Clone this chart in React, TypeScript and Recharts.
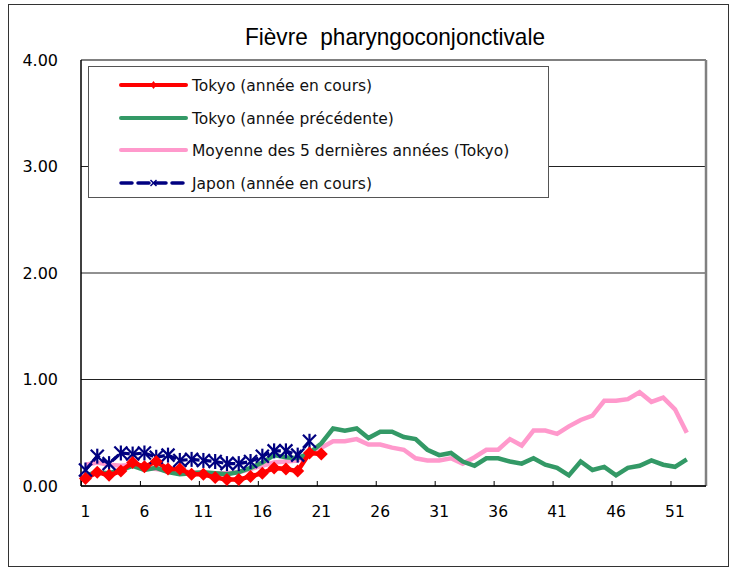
import React from "react";
import { CartesianGrid, Line, LineChart, ReferenceLine, XAxis, YAxis } from "recharts";

// semaines 1 à 52
const weeks = [
  1, 2, 3, 4, 5, 6, 7, 8, 9, 10, 11, 12, 13, 14, 15, 16, 17, 18, 19, 20, 21, 22, 23, 24, 25, 26,
  27, 28, 29, 30, 31, 32, 33, 34, 35, 36, 37, 38, 39, 40, 41, 42, 43, 44, 45, 46, 47, 48, 49, 50, 51, 52,
];

const tokyoCurrent = [
  0.07, 0.13, 0.1, 0.14, 0.22, 0.18, 0.23, 0.16, 0.16, 0.11, 0.11, 0.08, 0.06, 0.06, 0.09, 0.12, 0.17,
  0.16, 0.14, 0.31, 0.3,
];

const tokyoPrevious = [
  0.1, 0.13, 0.12, 0.15, 0.19, 0.15, 0.17, 0.13, 0.11, 0.12, 0.13, 0.12, 0.11, 0.13, 0.17, 0.22, 0.29,
  0.27, 0.26, 0.31, 0.4, 0.54, 0.52, 0.54, 0.45, 0.51, 0.51, 0.46, 0.44, 0.34, 0.29, 0.31, 0.23, 0.19,
  0.26, 0.26, 0.23, 0.21, 0.26, 0.2, 0.17, 0.1, 0.23, 0.15, 0.18, 0.1, 0.17, 0.19, 0.24, 0.2, 0.18, 0.25,
];

const tokyoAverage = [
  0.2, 0.22, 0.2, 0.19, 0.2, 0.17, 0.16, 0.14, 0.14, 0.13, 0.12, 0.12, 0.12, 0.13, 0.16, 0.19, 0.22,
  0.23, 0.24, 0.3, 0.36, 0.42, 0.42, 0.44, 0.39, 0.39, 0.36, 0.34, 0.26, 0.24, 0.24, 0.26, 0.21, 0.27,
  0.34, 0.34, 0.44, 0.38, 0.52, 0.52, 0.49, 0.56, 0.62, 0.66, 0.8, 0.8, 0.815, 0.88, 0.79, 0.83, 0.72, 0.5,
];

const japanCurrent = [
  0.15, 0.28, 0.21, 0.31, 0.3, 0.31, 0.27, 0.29, 0.24, 0.25, 0.24, 0.23, 0.21, 0.21, 0.23, 0.28, 0.33,
  0.33, 0.29, 0.42,
];

const xTicks = [1, 6, 11, 16, 21, 26, 31, 36, 41, 46, 51];
const yTicks = [0, 1, 2, 3, 4];

const legendLabels = [
  "Tokyo (année en cours)",
  "Tokyo (année précédente)",
  "Moyenne des 5 dernières années (Tokyo)",
  "Japon (année en cours)",
];

const RED = "#ff0000";
const GREEN = "#339966";
const PINK = "#ff99cc";
const NAVY = "#000080";
const AXIS_FONT = "'DejaVu Sans', Verdana, sans-serif";

const data = weeks.map((week, i) => ({
  week,
  current: tokyoCurrent[i] ?? null,
  previous: tokyoPrevious[i] ?? null,
  average: tokyoAverage[i] ?? null,
  japan: japanCurrent[i] ?? null,
}));

function Diamond(props: any) {
  const { cx, cy, value } = props;
  if (value == null || cx == null || cy == null) return null;
  const r = 6.5;
  return <polygon points={`${cx},${cy - r} ${cx + r},${cy} ${cx},${cy + r} ${cx - r},${cy}`} fill={RED} />;
}

function Star(props: any) {
  const { cx, cy, value } = props;
  if (value == null || cx == null || cy == null) return null;
  const r = 6.5;
  return (
    <g stroke={NAVY} strokeWidth={2.2}>
      <line x1={cx - r} y1={cy - r} x2={cx + r} y2={cy + r} />
      <line x1={cx - r} y1={cy + r} x2={cx + r} y2={cy - r} />
      <line x1={cx} y1={cy - r - 1} x2={cx} y2={cy + r + 1} />
    </g>
  );
}

function WeekTick(props: any) {
  const { x, y, payload } = props;
  return (
    <g>
      <line x1={x - 4} y1={y} x2={x - 4} y2={y - 5} stroke="#000" />
      <text x={x} y={y + 31} textAnchor="middle" fontFamily={AXIS_FONT} fontSize={15.5} fill="#000">
        {payload.value}
      </text>
    </g>
  );
}

function LegendBox() {
  const rowY = [85, 118, 150, 183];
  const x1 = 121;
  const x2 = 186;
  const mid = (x1 + x2) / 2;
  return (
    <g>
      <rect x={88.5} y={66.5} width={460} height={131} fill="#fff" stroke="#555" />
      <line x1={x1} y1={rowY[0]} x2={x2} y2={rowY[0]} stroke={RED} strokeWidth={4} strokeLinecap="round" />
      <polygon
        points={`${mid},${rowY[0] - 4} ${mid + 3},${rowY[0]} ${mid},${rowY[0] + 4} ${mid - 3},${rowY[0]}`}
        fill={RED}
      />
      <line x1={x1} y1={rowY[1]} x2={x2} y2={rowY[1]} stroke={GREEN} strokeWidth={4} strokeLinecap="round" />
      <line x1={x1} y1={rowY[2]} x2={x2} y2={rowY[2]} stroke={PINK} strokeWidth={4} strokeLinecap="round" />
      <line
        x1={x1}
        y1={rowY[3]}
        x2={x2}
        y2={rowY[3]}
        stroke={NAVY}
        strokeWidth={3.5}
        strokeDasharray="11 6"
        strokeLinecap="round"
      />
      <g stroke={NAVY} strokeWidth={1.5}>
        <line x1={mid - 3} y1={rowY[3] - 3} x2={mid + 3} y2={rowY[3] + 3} />
        <line x1={mid - 3} y1={rowY[3] + 3} x2={mid + 3} y2={rowY[3] - 3} />
      </g>
      {legendLabels.map((label, i) => (
        <text key={label} x={192} y={rowY[i] + 5.5} fontFamily={AXIS_FONT} fontSize={15.5} fill="#111">
          {label}
        </text>
      ))}
    </g>
  );
}

export default function App() {
  return (
    <div style={{ position: "absolute", left: 0, top: 0, width: 739, height: 571, background: "#fff" }}>
      <LineChart width={739} height={571} data={data} margin={{ top: 60, right: 33, bottom: 45, left: 21 }}>
        <CartesianGrid vertical={false} stroke="#222" strokeWidth={1} />
        <XAxis
          dataKey="week"
          type="number"
          domain={[0.62, 53.63]}
          ticks={xTicks}
          interval={0}
          height={40}
          tickLine={false}
          tickSize={0}
          tickMargin={0}
          tick={<WeekTick />}
          axisLine={{ stroke: "#000", strokeWidth: 1.5 }}
        />
        <YAxis
          domain={[0, 4]}
          ticks={yTicks}
          width={60}
          tickLine={false}
          tickSize={0}
          tickMargin={23}
          tickFormatter={(v: number) => v.toFixed(2)}
          tick={{ fontFamily: AXIS_FONT, fontSize: 16, fill: "#000" }}
          axisLine={{ stroke: "#000", strokeWidth: 1.5 }}
        />
        <ReferenceLine y={4} stroke="#808080" strokeWidth={2} />
        <ReferenceLine x={53.63} stroke="#808080" strokeWidth={2.5} />
        <Line
          dataKey="average"
          stroke={PINK}
          strokeWidth={4.5}
          dot={false}
          activeDot={false}
          isAnimationActive={false}
        />
        <Line
          dataKey="previous"
          stroke={GREEN}
          strokeWidth={4.5}
          dot={false}
          activeDot={false}
          isAnimationActive={false}
        />
        <Line
          dataKey="japan"
          stroke={NAVY}
          strokeWidth={3.2}
          strokeDasharray="9 3"
          dot={<Star />}
          activeDot={false}
          isAnimationActive={false}
        />
        <Line
          dataKey="current"
          stroke={RED}
          strokeWidth={4.5}
          dot={<Diamond />}
          activeDot={false}
          isAnimationActive={false}
        />
      </LineChart>
      <svg
        width={739}
        height={571}
        style={{ position: "absolute", left: 0, top: 0, pointerEvents: "none" }}
      >
        <rect x={8.5} y={4.5} width={720} height={562} fill="none" stroke="#333" />
        <text
          x={395}
          y={45}
          textAnchor="middle"
          fontFamily="'Liberation Sans', Arial, sans-serif"
          fontSize={24}
          textLength={300}
          lengthAdjust="spacingAndGlyphs"
          fill="#000"
          style={{ whiteSpace: "pre" }}
        >
          Fièvre  pharyngoconjonctivale
        </text>
        <LegendBox />
      </svg>
    </div>
  );
}
